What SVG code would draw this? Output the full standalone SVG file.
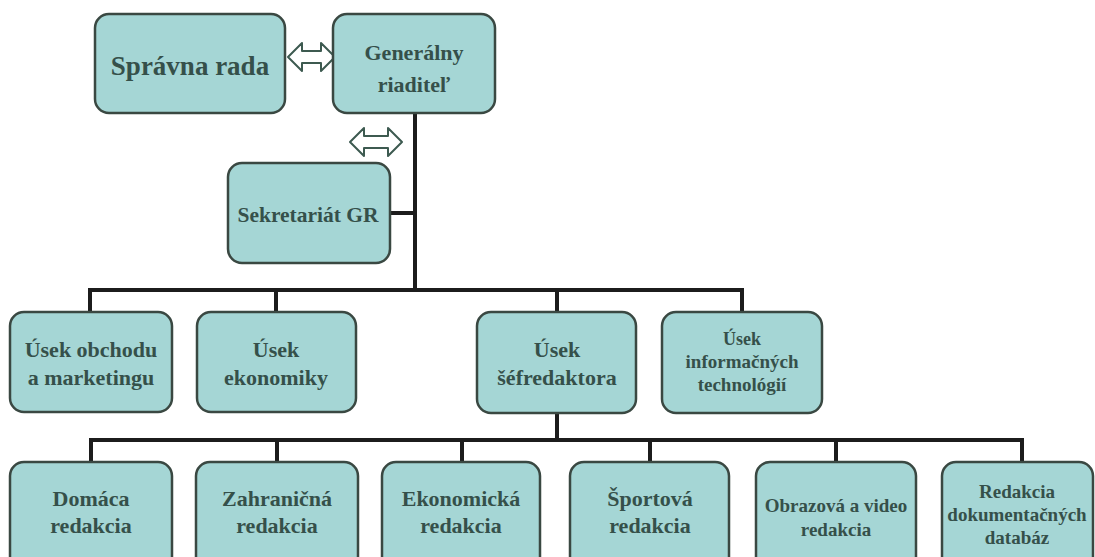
<svg xmlns="http://www.w3.org/2000/svg" width="1095" height="557" viewBox="0 0 1095 557">
<style>
.box{fill:#a5d6d5;stroke:#3a4842;stroke-width:2.5}
.t{font-family:"Liberation Serif","Times New Roman",serif;font-weight:bold;fill:#35504a;text-anchor:middle}
.f22{font-size:22px}
.f21{font-size:21.5px}
.f19{font-size:19px}
.line{stroke:#1c1c1c;stroke-width:4;fill:none;stroke-linecap:square}
.arr{fill:#ffffff;stroke:#3d5a50;stroke-width:2;stroke-linejoin:round}
</style>
<rect width="1095" height="557" fill="#ffffff"/>
<g id="connectors">
<polyline class="line" points="415,113 415,290"/>
<polyline class="line" points="390,213 415,213"/>
<polyline class="line" points="90,312 90,290 742,290 742,312"/>
<polyline class="line" points="276,290 276,312"/>
<polyline class="line" points="557,290 557,312"/>
<polyline class="line" points="557,413 557,440"/>
<polyline class="line" points="91,462 91,440 1022,440 1022,462"/>
<polyline class="line" points="277,440 277,462"/>
<polyline class="line" points="462,440 462,462"/>
<polyline class="line" points="650,440 650,462"/>
<polyline class="line" points="836,440 836,462"/>
<polygon class="arr" points="288,57 302,43 302,51 321,51 321,43 335,57 321,71 321,63 302,63 302,71"/>
<polygon class="arr" points="350,142 364,128 364,136 388,136 388,128 402,142 388,156 388,148 364,148 364,156"/>
</g>
<g id="spravna-rada">
<rect class="box" x="95" y="14" width="190" height="99" rx="14"/>
<text class="t" x="190" y="75" font-size="27">Správna rada</text>
</g>
<g id="generalny-riaditel">
<rect class="box" x="333" y="14" width="162" height="99" rx="14"/>
<text class="t f22" x="414" y="60">Generálny</text>
<text class="t f22" x="414" y="92">riaditeľ</text>
</g>
<g id="sekretariat">
<rect class="box" x="228" y="163" width="162" height="100" rx="14"/>
<text class="t f21" x="308" y="222">Sekretariát GR</text>
</g>
<g id="usek-obchodu">
<rect class="box" x="10" y="312" width="162" height="100" rx="14"/>
<text class="t f22" x="91" y="357">Úsek obchodu</text>
<text class="t f22" x="91" y="385">a marketingu</text>
</g>
<g id="usek-ekonomiky">
<rect class="box" x="197" y="312" width="159" height="100" rx="14"/>
<text class="t f22" x="276" y="357">Úsek</text>
<text class="t f22" x="276" y="385">ekonomiky</text>
</g>
<g id="usek-sefredaktora">
<rect class="box" x="477" y="312" width="159" height="101" rx="14"/>
<text class="t f22" x="557" y="357">Úsek</text>
<text class="t f22" x="557" y="385">šéfredaktora</text>
</g>
<g id="usek-it">
<rect class="box" x="662" y="312" width="160" height="101" rx="14"/>
<text class="t" x="742" y="345" font-size="18">Úsek</text>
<text class="t f19" x="742" y="368">informačných</text>
<text class="t f19" x="742" y="391">technológií</text>
</g>
<g id="domaca">
<rect class="box" x="10" y="462" width="162" height="110" rx="14"/>
<text class="t f22" x="91" y="506">Domáca</text>
<text class="t f22" x="91" y="533">redakcia</text>
</g>
<g id="zahranicna">
<rect class="box" x="196" y="462" width="162" height="110" rx="14"/>
<text class="t f22" x="277" y="506">Zahraničná</text>
<text class="t f22" x="277" y="533">redakcia</text>
</g>
<g id="ekonomicka">
<rect class="box" x="382" y="462" width="158" height="110" rx="14"/>
<text class="t f22" x="461" y="506">Ekonomická</text>
<text class="t f22" x="461" y="533">redakcia</text>
</g>
<g id="sportova">
<rect class="box" x="570" y="462" width="159" height="110" rx="14"/>
<text class="t f22" x="650" y="506">Športová</text>
<text class="t f22" x="650" y="533">redakcia</text>
</g>
<g id="obrazova">
<rect class="box" x="756" y="462" width="160" height="110" rx="14"/>
<text class="t f19" x="836" y="512">Obrazová a video</text>
<text class="t f19" x="836" y="536">redakcia</text>
</g>
<g id="dokumentacne">
<rect class="box" x="942" y="462" width="151" height="110" rx="14"/>
<text class="t f19" x="1017" y="498">Redakcia</text>
<text class="t f19" x="1017" y="521">dokumentačných</text>
<text class="t f19" x="1017" y="544">databáz</text>
</g>
</svg>
